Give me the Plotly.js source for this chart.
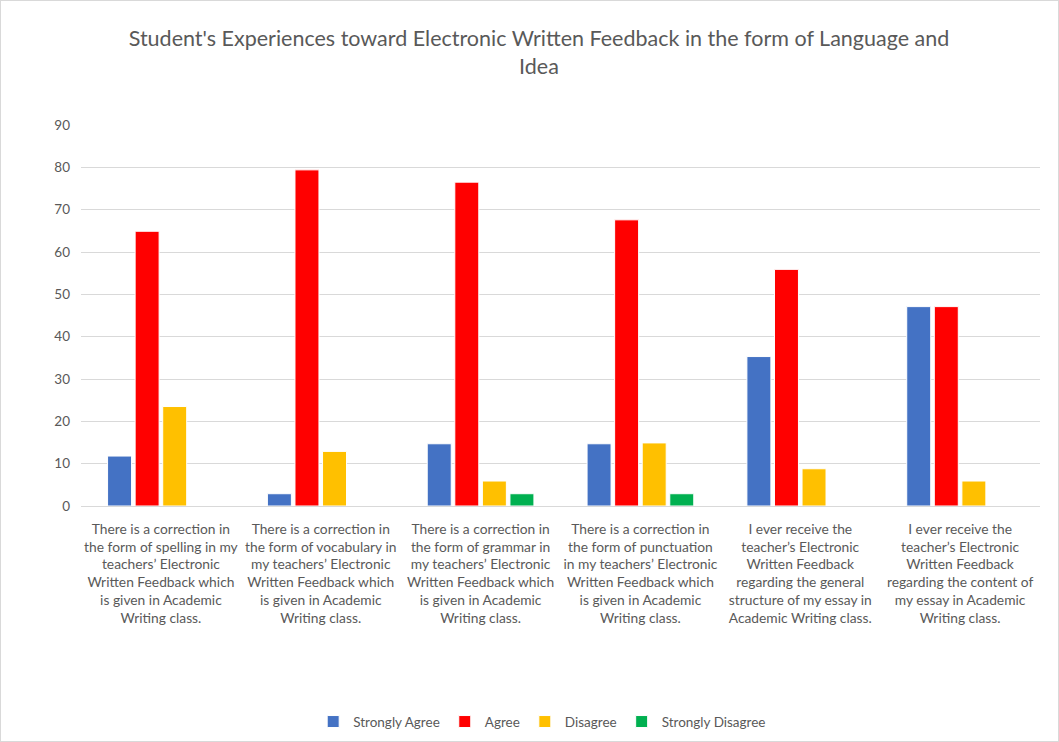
<!DOCTYPE html>
<html>
<head>
<meta charset="utf-8">
<script src="https://cdn.plot.ly/plotly-3.0.1.min.js"></script>
<style>
html,body{margin:0;padding:0;background:#fff;}
#chart{width:1057px;height:740px;border:1px solid #d9d9d9;}
</style>
</head>
<body>
<div id="chart"></div>
<script>
const categories = [
  "There is a correction in<br>the form of spelling in my<br>teachers’ Electronic<br>Written Feedback which<br>is given in Academic<br>Writing class.",
  "There is a correction in<br>the form of vocabulary in<br>my teachers’ Electronic<br>Written Feedback which<br>is given in Academic<br>Writing class.",
  "There is a correction in<br>the form of grammar in<br>my teachers’ Electronic<br>Written Feedback which<br>is given in Academic<br>Writing class.",
  "There is a correction in<br>the form of punctuation<br>in my teachers’ Electronic<br>Written Feedback which<br>is given in Academic<br>Writing class.",
  "I ever receive the<br>teacher’s Electronic<br>Written Feedback<br>regarding the general<br>structure of my essay in<br>Academic Writing class.",
  "I ever receive the<br>teacher’s Electronic<br>Written Feedback<br>regarding the content of<br>my essay in Academic<br>Writing class."
];
const stronglyAgree    = [11.8, 2.9, 14.7, 14.7, 35.3, 47.1];
const agree            = [64.9, 79.4, 76.5, 67.6, 55.9, 47.1];
const disagree         = [23.5, 12.9, 5.9, 14.9, 8.8, 5.9];
const stronglyDisagree = [0, 0, 2.9, 2.9, 0, 0];
const seriesNames = ["Strongly Agree", "Agree", "Disagree", "Strongly Disagree"];
const seriesColors = ["#4472C4", "#FF0000", "#FFC000", "#00B050"];
const yTicks = [0, 10, 20, 30, 40, 50, 60, 70, 80, 90];

const allSeries = [stronglyAgree, agree, disagree, stronglyDisagree];
const traces = allSeries.map((vals, i) => ({
  type: 'bar',
  name: seriesNames[i],
  x: categories,
  y: vals,
  marker: {color: seriesColors[i], line: {color: '#ffffff', width: 1}},
  hoverinfo: 'y'
}));

const layout = {
  width: 1057, height: 740,
  margin: {l: 80, r: 18, t: 124, b: 235},
  paper_bgcolor: '#ffffff', plot_bgcolor: '#ffffff',
  font: {family: 'Lato, "Open Sans", sans-serif', color: '#595959', size: 13.5},
  title: {
    text: "Student's Experiences toward Electronic Written Feedback in the form of Language and<br>Idea",
    font: {size: 21.5, color: '#595959', family: 'Lato, "Open Sans", sans-serif'},
    x: 0.509, xanchor: 'center', xref: 'container',
    y: 0.939, yanchor: 'top', yref: 'container'
  },
  barmode: 'group',
  bargap: 0.31,
  bargroupgap: 0.13,
  xaxis: {
    type: 'category',
    showgrid: false,
    showline: true, linecolor: '#d9d9d9', linewidth: 1,
    ticks: '', tickfont: {size: 13.8, color: '#595959'},
    ticklabelstandoff: 10,
    automargin: false
  },
  yaxis: {
    range: [0, 90],
    tickvals: yTicks,
    ticktext: yTicks.map(String),
    showgrid: true, gridcolor: '#d9d9d9', gridwidth: 1,
    zeroline: true, zerolinecolor: '#d9d9d9', zerolinewidth: 1,
    showline: false, ticks: '',
    tickfont: {size: 13.5, color: '#595959'},
    ticklabelstandoff: 10,
    automargin: false
  },
  legend: {
    orientation: 'h', x: 0.512, xanchor: 'center', xref: 'container',
    y: 0.026, yanchor: 'middle', yref: 'container',
    font: {size: 13.5, color: '#595959'},
    itemwidth: 30, traceorder: 'normal'
  },
  showlegend: true
};

Plotly.newPlot('chart', traces, layout, {displayModeBar: false, staticPlot: true});
</script>
</body>
</html>
